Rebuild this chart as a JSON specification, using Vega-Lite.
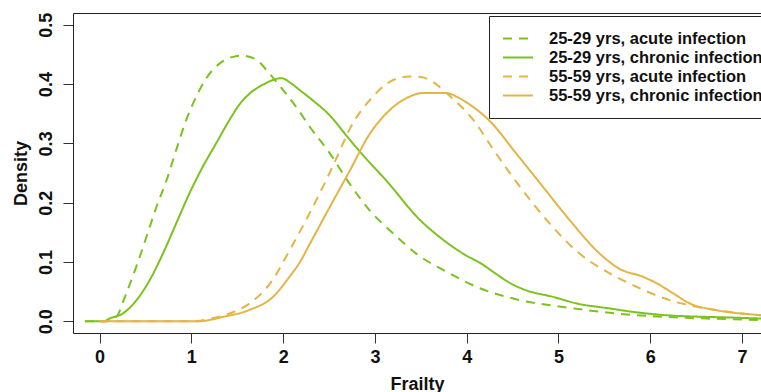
{
  "$schema": "https://vega.github.io/schema/vega-lite/v6.json",
  "width": 688,
  "height": 320,
  "autosize": {"type": "none"},
  "padding": {"left": 73, "top": 13, "right": 0, "bottom": 59},
  "background": "white",
  "config": {
    "view": {"stroke": "#222", "strokeWidth": 1},
    "font": "Liberation Sans",
    "axis": {
      "domain": false,
      "grid": false,
      "tickSize": 10,
      "tickColor": "#333",
      "tickWidth": 1,
      "labelFont": "Liberation Sans",
      "labelFontWeight": "bold",
      "labelFontSize": 18,
      "labelColor": "#111",
      "titleFont": "Liberation Sans",
      "titleFontWeight": "bold",
      "titleFontSize": 18,
      "titleColor": "#111"
    }
  },
  "data": {
    "values": [
      {"group": "25-29 yrs, acute infection", "frailty": -0.16, "density": 0},
      {"group": "25-29 yrs, acute infection", "frailty": 0.08, "density": 0},
      {"group": "25-29 yrs, acute infection", "frailty": 0.18, "density": 0.007},
      {"group": "25-29 yrs, acute infection", "frailty": 0.29, "density": 0.047},
      {"group": "25-29 yrs, acute infection", "frailty": 0.4, "density": 0.092},
      {"group": "25-29 yrs, acute infection", "frailty": 0.51, "density": 0.142},
      {"group": "25-29 yrs, acute infection", "frailty": 0.62, "density": 0.193},
      {"group": "25-29 yrs, acute infection", "frailty": 0.73, "density": 0.238},
      {"group": "25-29 yrs, acute infection", "frailty": 0.835, "density": 0.289},
      {"group": "25-29 yrs, acute infection", "frailty": 0.945, "density": 0.34},
      {"group": "25-29 yrs, acute infection", "frailty": 1.054, "density": 0.379},
      {"group": "25-29 yrs, acute infection", "frailty": 1.163, "density": 0.41},
      {"group": "25-29 yrs, acute infection", "frailty": 1.31, "density": 0.435},
      {"group": "25-29 yrs, acute infection", "frailty": 1.453, "density": 0.446},
      {"group": "25-29 yrs, acute infection", "frailty": 1.56, "density": 0.448},
      {"group": "25-29 yrs, acute infection", "frailty": 1.71, "density": 0.441},
      {"group": "25-29 yrs, acute infection", "frailty": 1.85, "density": 0.418},
      {"group": "25-29 yrs, acute infection", "frailty": 2.0, "density": 0.39},
      {"group": "25-29 yrs, acute infection", "frailty": 2.14, "density": 0.362},
      {"group": "25-29 yrs, acute infection", "frailty": 2.29, "density": 0.328},
      {"group": "25-29 yrs, acute infection", "frailty": 2.51, "density": 0.283},
      {"group": "25-29 yrs, acute infection", "frailty": 2.72, "density": 0.233},
      {"group": "25-29 yrs, acute infection", "frailty": 2.94, "density": 0.1875},
      {"group": "25-29 yrs, acute infection", "frailty": 3.2, "density": 0.148},
      {"group": "25-29 yrs, acute infection", "frailty": 3.45, "density": 0.114},
      {"group": "25-29 yrs, acute infection", "frailty": 3.81, "density": 0.081},
      {"group": "25-29 yrs, acute infection", "frailty": 4.105, "density": 0.058},
      {"group": "25-29 yrs, acute infection", "frailty": 4.58, "density": 0.0355},
      {"group": "25-29 yrs, acute infection", "frailty": 5.05, "density": 0.024},
      {"group": "25-29 yrs, acute infection", "frailty": 5.63, "density": 0.013},
      {"group": "25-29 yrs, acute infection", "frailty": 6.18, "density": 0.007},
      {"group": "25-29 yrs, acute infection", "frailty": 6.7, "density": 0.004},
      {"group": "25-29 yrs, acute infection", "frailty": 7.2, "density": 0.002},
      {"group": "25-29 yrs, acute infection", "frailty": 7.5, "density": 0.001},

      {"group": "25-29 yrs, chronic infection", "frailty": -0.16, "density": 0},
      {"group": "25-29 yrs, chronic infection", "frailty": 0.05, "density": 0},
      {"group": "25-29 yrs, chronic infection", "frailty": 0.11, "density": 0.0045},
      {"group": "25-29 yrs, chronic infection", "frailty": 0.254, "density": 0.013},
      {"group": "25-29 yrs, chronic infection", "frailty": 0.4, "density": 0.035},
      {"group": "25-29 yrs, chronic infection", "frailty": 0.545, "density": 0.069},
      {"group": "25-29 yrs, chronic infection", "frailty": 0.69, "density": 0.114},
      {"group": "25-29 yrs, chronic infection", "frailty": 0.835, "density": 0.165},
      {"group": "25-29 yrs, chronic infection", "frailty": 0.98, "density": 0.216},
      {"group": "25-29 yrs, chronic infection", "frailty": 1.126, "density": 0.261},
      {"group": "25-29 yrs, chronic infection", "frailty": 1.27, "density": 0.3},
      {"group": "25-29 yrs, chronic infection", "frailty": 1.417, "density": 0.34},
      {"group": "25-29 yrs, chronic infection", "frailty": 1.526, "density": 0.366},
      {"group": "25-29 yrs, chronic infection", "frailty": 1.635, "density": 0.384},
      {"group": "25-29 yrs, chronic infection", "frailty": 1.78, "density": 0.399},
      {"group": "25-29 yrs, chronic infection", "frailty": 1.89, "density": 0.407},
      {"group": "25-29 yrs, chronic infection", "frailty": 1.98, "density": 0.41},
      {"group": "25-29 yrs, chronic infection", "frailty": 2.09, "density": 0.401},
      {"group": "25-29 yrs, chronic infection", "frailty": 2.18, "density": 0.39},
      {"group": "25-29 yrs, chronic infection", "frailty": 2.32, "density": 0.373},
      {"group": "25-29 yrs, chronic infection", "frailty": 2.51, "density": 0.347},
      {"group": "25-29 yrs, chronic infection", "frailty": 2.69, "density": 0.313},
      {"group": "25-29 yrs, chronic infection", "frailty": 2.87, "density": 0.28},
      {"group": "25-29 yrs, chronic infection", "frailty": 3.12, "density": 0.238},
      {"group": "25-29 yrs, chronic infection", "frailty": 3.49, "density": 0.171},
      {"group": "25-29 yrs, chronic infection", "frailty": 3.705, "density": 0.142},
      {"group": "25-29 yrs, chronic infection", "frailty": 3.96, "density": 0.114},
      {"group": "25-29 yrs, chronic infection", "frailty": 4.18, "density": 0.095},
      {"group": "25-29 yrs, chronic infection", "frailty": 4.3, "density": 0.082},
      {"group": "25-29 yrs, chronic infection", "frailty": 4.5, "density": 0.062},
      {"group": "25-29 yrs, chronic infection", "frailty": 4.65, "density": 0.052},
      {"group": "25-29 yrs, chronic infection", "frailty": 4.94, "density": 0.041},
      {"group": "25-29 yrs, chronic infection", "frailty": 5.195, "density": 0.03},
      {"group": "25-29 yrs, chronic infection", "frailty": 5.56, "density": 0.0214},
      {"group": "25-29 yrs, chronic infection", "frailty": 5.81, "density": 0.0157},
      {"group": "25-29 yrs, chronic infection", "frailty": 6.18, "density": 0.01},
      {"group": "25-29 yrs, chronic infection", "frailty": 6.9, "density": 0.006},
      {"group": "25-29 yrs, chronic infection", "frailty": 7.5, "density": 0.003},

      {"group": "55-59 yrs, acute infection", "frailty": 0.0, "density": 0},
      {"group": "55-59 yrs, acute infection", "frailty": 1.05, "density": 0},
      {"group": "55-59 yrs, acute infection", "frailty": 1.2, "density": 0.004},
      {"group": "55-59 yrs, acute infection", "frailty": 1.417, "density": 0.013},
      {"group": "55-59 yrs, acute infection", "frailty": 1.635, "density": 0.03},
      {"group": "55-59 yrs, acute infection", "frailty": 1.85, "density": 0.062},
      {"group": "55-59 yrs, acute infection", "frailty": 2.09, "density": 0.125},
      {"group": "55-59 yrs, acute infection", "frailty": 2.325, "density": 0.193},
      {"group": "55-59 yrs, acute infection", "frailty": 2.54, "density": 0.261},
      {"group": "55-59 yrs, acute infection", "frailty": 2.76, "density": 0.334},
      {"group": "55-59 yrs, acute infection", "frailty": 2.98, "density": 0.379},
      {"group": "55-59 yrs, acute infection", "frailty": 3.09, "density": 0.396},
      {"group": "55-59 yrs, acute infection", "frailty": 3.2, "density": 0.407},
      {"group": "55-59 yrs, acute infection", "frailty": 3.38, "density": 0.413},
      {"group": "55-59 yrs, acute infection", "frailty": 3.5, "density": 0.412},
      {"group": "55-59 yrs, acute infection", "frailty": 3.63, "density": 0.404},
      {"group": "55-59 yrs, acute infection", "frailty": 3.78, "density": 0.385},
      {"group": "55-59 yrs, acute infection", "frailty": 4.07, "density": 0.34},
      {"group": "55-59 yrs, acute infection", "frailty": 4.32, "density": 0.283},
      {"group": "55-59 yrs, acute infection", "frailty": 4.58, "density": 0.227},
      {"group": "55-59 yrs, acute infection", "frailty": 4.87, "density": 0.171},
      {"group": "55-59 yrs, acute infection", "frailty": 5.23, "density": 0.114},
      {"group": "55-59 yrs, acute infection", "frailty": 5.56, "density": 0.0806},
      {"group": "55-59 yrs, acute infection", "frailty": 5.85, "density": 0.058},
      {"group": "55-59 yrs, acute infection", "frailty": 6.21, "density": 0.0355},
      {"group": "55-59 yrs, acute infection", "frailty": 6.72, "density": 0.0186},
      {"group": "55-59 yrs, acute infection", "frailty": 7.2, "density": 0.01},
      {"group": "55-59 yrs, acute infection", "frailty": 7.5, "density": 0.006},

      {"group": "55-59 yrs, chronic infection", "frailty": 0.0, "density": 0},
      {"group": "55-59 yrs, chronic infection", "frailty": 1.1, "density": 0},
      {"group": "55-59 yrs, chronic infection", "frailty": 1.2, "density": 0.002},
      {"group": "55-59 yrs, chronic infection", "frailty": 1.34, "density": 0.007},
      {"group": "55-59 yrs, chronic infection", "frailty": 1.635, "density": 0.019},
      {"group": "55-59 yrs, chronic infection", "frailty": 1.89, "density": 0.041},
      {"group": "55-59 yrs, chronic infection", "frailty": 2.07, "density": 0.075},
      {"group": "55-59 yrs, chronic infection", "frailty": 2.18, "density": 0.099},
      {"group": "55-59 yrs, chronic infection", "frailty": 2.29, "density": 0.13},
      {"group": "55-59 yrs, chronic infection", "frailty": 2.51, "density": 0.193},
      {"group": "55-59 yrs, chronic infection", "frailty": 2.72, "density": 0.252},
      {"group": "55-59 yrs, chronic infection", "frailty": 2.94, "density": 0.315},
      {"group": "55-59 yrs, chronic infection", "frailty": 3.16, "density": 0.356},
      {"group": "55-59 yrs, chronic infection", "frailty": 3.38, "density": 0.379},
      {"group": "55-59 yrs, chronic infection", "frailty": 3.52, "density": 0.385},
      {"group": "55-59 yrs, chronic infection", "frailty": 3.78, "density": 0.385},
      {"group": "55-59 yrs, chronic infection", "frailty": 3.9, "density": 0.378},
      {"group": "55-59 yrs, chronic infection", "frailty": 4.03, "density": 0.366},
      {"group": "55-59 yrs, chronic infection", "frailty": 4.25, "density": 0.338},
      {"group": "55-59 yrs, chronic infection", "frailty": 4.54, "density": 0.283},
      {"group": "55-59 yrs, chronic infection", "frailty": 4.83, "density": 0.227},
      {"group": "55-59 yrs, chronic infection", "frailty": 5.12, "density": 0.171},
      {"group": "55-59 yrs, chronic infection", "frailty": 5.45, "density": 0.114},
      {"group": "55-59 yrs, chronic infection", "frailty": 5.67, "density": 0.088},
      {"group": "55-59 yrs, chronic infection", "frailty": 5.92, "density": 0.075},
      {"group": "55-59 yrs, chronic infection", "frailty": 6.07, "density": 0.064},
      {"group": "55-59 yrs, chronic infection", "frailty": 6.25, "density": 0.047},
      {"group": "55-59 yrs, chronic infection", "frailty": 6.43, "density": 0.03},
      {"group": "55-59 yrs, chronic infection", "frailty": 6.72, "density": 0.0186},
      {"group": "55-59 yrs, chronic infection", "frailty": 7.2, "density": 0.01},
      {"group": "55-59 yrs, chronic infection", "frailty": 7.5, "density": 0.006}
    ]
  },
  "mark": {"type": "line", "strokeWidth": 2, "interpolate": "monotone", "clip": true},
  "encoding": {
    "x": {
      "field": "frailty",
      "type": "quantitative",
      "scale": {"domain": [-0.29, 7.208], "nice": false, "zero": false},
      "axis": {
        "title": "Frailty",
        "values": [0, 1, 2, 3, 4, 5, 6, 7],
        "labelPadding": 5,
        "titlePadding": 9,
        "labelFlush": false
      }
    },
    "y": {
      "field": "density",
      "type": "quantitative",
      "scale": {"domain": [-0.02, 0.52], "nice": false, "zero": false},
      "axis": {
        "title": "Density",
        "values": [0, 0.1, 0.2, 0.3, 0.4, 0.5],
        "format": ".1f",
        "labelAngle": -90,
        "labelAlign": "center",
        "labelBaseline": "bottom",
        "labelPadding": 8,
        "titlePadding": 7,
        "labelFlush": false
      }
    },
    "color": {
      "field": "group",
      "type": "nominal",
      "scale": {
        "domain": ["25-29 yrs, acute infection", "25-29 yrs, chronic infection", "55-59 yrs, acute infection", "55-59 yrs, chronic infection"],
        "range": ["#7bc21e", "#7bc21e", "#e4b444", "#e4b444"]
      },
      "legend": {
        "title": null,
        "orient": "none",
        "legendX": 416,
        "legendY": 3,
        "symbolType": "stroke",
        "symbolSize": 900,
        "symbolStrokeWidth": 2,
        "labelFont": "Liberation Sans",
        "labelFontWeight": "bold",
        "labelFontSize": 16.5,
        "labelColor": "#111",
        "labelOffset": 15,
        "labelLimit": 0,
        "clipHeight": 19,
        "rowPadding": 0,
        "padding": 13,
        "strokeColor": "#222",
        "fillColor": "white"
      }
    },
    "strokeDash": {
      "field": "group",
      "type": "nominal",
      "scale": {
        "domain": ["25-29 yrs, acute infection", "25-29 yrs, chronic infection", "55-59 yrs, acute infection", "55-59 yrs, chronic infection"],
        "range": [[9, 7], [1, 0], [9, 7], [1, 0]]
      },
      "legend": {
        "title": null,
        "orient": "none",
        "legendX": 416,
        "legendY": 3,
        "symbolType": "stroke",
        "symbolSize": 900,
        "symbolStrokeWidth": 2,
        "labelFont": "Liberation Sans",
        "labelFontWeight": "bold",
        "labelFontSize": 16.5,
        "labelColor": "#111",
        "labelOffset": 15,
        "labelLimit": 0,
        "clipHeight": 19,
        "rowPadding": 0,
        "padding": 13,
        "strokeColor": "#222",
        "fillColor": "white"
      }
    }
  }
}
